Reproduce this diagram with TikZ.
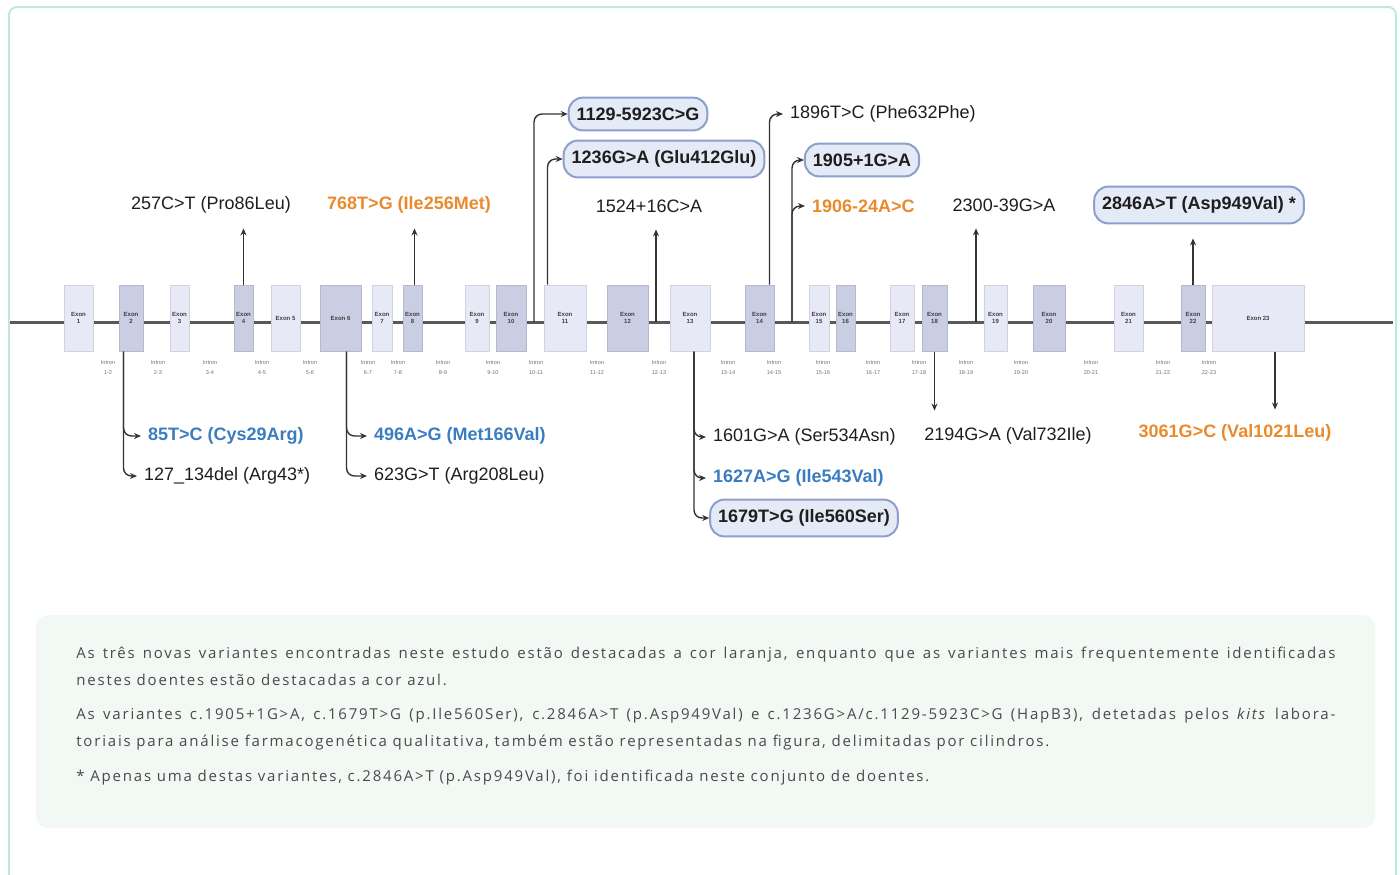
\documentclass[tikz,border=0pt]{standalone}
\usepackage{fontspec}
\setmainfont{Liberation Sans}
\newfontfamily\capfont[LetterSpace=12]{Open Sans}
\usetikzlibrary{arrows.meta, calc}

\definecolor{frameC}{HTML}{BFE8E4}
\definecolor{capbg}{HTML}{F2F8F4}
\definecolor{capC}{HTML}{4A4A4A}
\definecolor{exL}{HTML}{E7EAF6}
\definecolor{exD}{HTML}{C9CEE3}
\definecolor{boxbg}{HTML}{E4EAF6}
\definecolor{boxC}{HTML}{8DA0CC}
\definecolor{blueC}{HTML}{3A7CC0}
\definecolor{orangeC}{HTML}{E98A2C}
\definecolor{lineC}{HTML}{333333}
\definecolor{txtC}{HTML}{1E1E1E}

\tikzset{
  lbl/.style={font=\fontsize{9}{11}\selectfont, text=txtC},
  newvar/.style={font=\fontsize{9}{11}\selectfont\bfseries, text=orangeC},
  freqvar/.style={font=\fontsize{9}{11}\selectfont\bfseries, text=blueC},
  kitvar/.style={font=\fontsize{9}{11}\selectfont\bfseries, text=txtC, draw=boxC, fill=boxbg,
    line width=1pt, rounded corners=7pt, inner xsep=4pt, inner ysep=5pt},
  conn/.style={draw=lineC, line width=0.7pt, rounded corners=4pt, -{Stealth[length=3.5pt, width=3pt]}},
  backbone/.style={draw=black!65, line width=1.5pt},
  exon/.style={inner sep=0pt, minimum height=33pt, line width=0.5pt, align=center,
    font=\fontsize{3}{3.6}\selectfont\bfseries, text=black!75},
  intron/.style={font=\fontsize{2.8}{5}\selectfont, text=black!55, align=center},
}

\begin{document}
\begin{tikzpicture}[x=0.5pt, y=-0.5pt]
  \useasboundingbox (0,0) rectangle (1400,874);
  \draw[frameC, line width=1pt, rounded corners=4pt] (9,7) rectangle (1396,900);
  \fill[capbg, rounded corners=6pt] (36,615) rectangle (1375,828);

  \draw[backbone] (10,322) -- (1393,322);

  \foreach \i/\a/\b/\f/\t in {1/64/93/exL/{Exon\\1}, 2/119/143/exD/{Exon\\2}, 3/170/189/exL/{Exon\\3},
      4/234/253/exD/{Exon\\4}, 5/271/300/exL/{Exon 5}, 6/320/361/exD/{Exon 6}, 7/372/392/exL/{Exon\\7},
      8/403/422/exD/{Exon\\8}, 9/465/489/exL/{Exon\\9}, 10/496/526/exD/{Exon\\10}, 11/544/586/exL/{Exon\\11},
      12/607/648/exD/{Exon\\12}, 13/670/710/exL/{Exon\\13}, 14/745/774/exD/{Exon\\14}, 15/809/829/exL/{Exon\\15},
      16/836/855/exD/{Exon\\16}, 17/890/914/exL/{Exon\\17}, 18/922/947/exD/{Exon\\18}, 19/984/1007/exL/{Exon\\19},
      20/1033/1065/exD/{Exon\\20}, 21/1114/1143/exL/{Exon\\21}, 22/1181/1205/exD/{Exon\\22}, 23/1212/1304/exL/{Exon 23}}{
    \pgfmathsetmacro\w{(\b-\a)*0.5}
    \node[exon, fill=\f, draw=\f!90!black, minimum width=\w pt] (e\i) at ({(\a+\b)/2},318) {\t};
  }

  \foreach \x/\t in {108/1-2, 158/2-3, 210/3-4, 262/4-5, 310/5-6, 368/6-7, 398/7-8, 443/8-9, 493/9-10,
      536/10-11, 597/11-12, 659/12-13, 728/13-14, 774/14-15, 823/15-16, 873/16-17, 919/17-18, 966/18-19,
      1021/19-20, 1091/20-21, 1163/21-22, 1209/22-23}
    \node[intron] (in\t) at (\x,368) {Intron\\\t};

  \coordinate (b1011) at (534,322);
  \coordinate (b1213) at (656,322);
  \coordinate (b1415) at (792,322);
  \coordinate (b1819) at (976,322);

  \node[lbl] (l257) at (211,205) {257C>T (Pro86Leu)};
  \node[newvar] (l768) at (409,205) {768T>G (Ile256Met)};
  \node[lbl] (l1524) at (649,206) {1524+16C>A};
  \node[lbl] (l2300) at (1004,205) {2300-39G>A};
  \node[kitvar] (l2846) at (1199,205) {2846A>T (Asp949Val) *};
  \node[kitvar] (l1129) at (638,114) {1129-5923C>G};
  \node[kitvar] (l1236) at (664,159) {1236G>A (Glu412Glu)};
  \node[lbl, anchor=west] (l1896) at (783,114) {1896T>C (Phe632Phe)};
  \node[kitvar] (l1905) at (862,160) {1905+1G>A};
  \node[newvar, anchor=west] (l1906) at (805,206) {1906-24A>C};

  \node[freqvar, anchor=west] (l85) at (141,436) {85T>C (Cys29Arg)};
  \node[lbl, anchor=west] (l127) at (137,476) {127\_134del (Arg43*)};
  \node[freqvar, anchor=west] (l496) at (367,436) {496A>G (Met166Val)};
  \node[lbl, anchor=west] (l623) at (367,476) {623G>T (Arg208Leu)};
  \node[lbl, anchor=west] (l1601) at (706,437) {1601G>A (Ser534Asn)};
  \node[freqvar, anchor=west] (l1627) at (706,478) {1627A>G (Ile543Val)};
  \node[kitvar] (l1679) at (804,518) {1679T>G (Ile560Ser)};
  \node[lbl] (l2194) at (1008,436) {2194G>A (Val732Ile)};
  \node[newvar] (l3061) at (1235,433) {3061G>C (Val1021Leu)};

  \draw[conn, shorten >=4pt] (e4.north) -- (e4.north |- l257.south);
  \draw[conn, shorten >=4pt] ([xshift=1pt]e8.north) -- ([xshift=1pt]e8.north |- l768.south);
  \draw[conn, shorten >=5pt] (b1213) -- (b1213 |- l1524.south);
  \draw[conn, shorten >=5pt] (b1819) -- (b1819 |- l2300.south);
  \draw[conn, shorten >=7pt] (e22.north) -- (e22.north |- l2846.south);
  \draw[conn, shorten >=5pt] (e18.south) -- (e18.south |- l2194.north);
  \draw[conn, shorten >=4pt] ([xshift=8.5pt]e23.south) -- ([xshift=8.5pt]e23.south |- l3061.north);

  \draw[conn] (b1011) |- (l1129.west);
  \draw[conn] ([xshift=2pt]e11.north west) |- (l1236.west);
  \draw[conn] ([xshift=-2.5pt]e14.north east) |- (l1896.west);
  \draw[conn] (b1415) |- (l1905.west);
  \draw[conn] (b1415) |- (l1906.west);

  \draw[conn] ([xshift=2.5pt]e2.south west) |- (l85.west);
  \draw[conn] ([xshift=2.5pt]e2.south west) |- (l127.west);
  \draw[conn] ([xshift=3pt]e6.south) |- (l496.west);
  \draw[conn] ([xshift=3pt]e6.south) |- (l623.west);
  \draw[conn] ([xshift=2pt]e13.south) |- (l1601.west);
  \draw[conn] ([xshift=2pt]e13.south) |- (l1627.west);
  \draw[conn] ([xshift=2pt]e13.south) |- (l1679.west);

  \begin{scope}[every node/.style={anchor=base west, inner sep=0pt, font=\capfont\fontsize{7.5}{9}\selectfont, text=capC}]
    \node (c1) at (76,658) {\makebox[629.5pt][s]{As três novas variantes encontradas neste estudo estão destacadas a cor laranja, enquanto que as variantes mais frequentemente identificadas}};
    \node (c2) at (76,685) {nestes doentes estão destacadas a cor azul.};
    \node (c3) at (76,719) {\makebox[629.5pt][s]{As variantes c.1905+1G>A, c.1679T>G (p.Ile560Ser), c.2846A>T (p.Asp949Val) e c.1236G>A/c.1129-5923C>G (HapB3), detetadas pelos \textit{kits} labora-}};
    \node (c4) at (76,746) {toriais para análise farmacogenética qualitativa, também estão representadas na figura, delimitadas por cilindros.};
    \node (c5) at (76,781) {* Apenas uma destas variantes, c.2846A>T (p.Asp949Val), foi identificada neste conjunto de doentes.};
  \end{scope}
\end{tikzpicture}
\end{document}
